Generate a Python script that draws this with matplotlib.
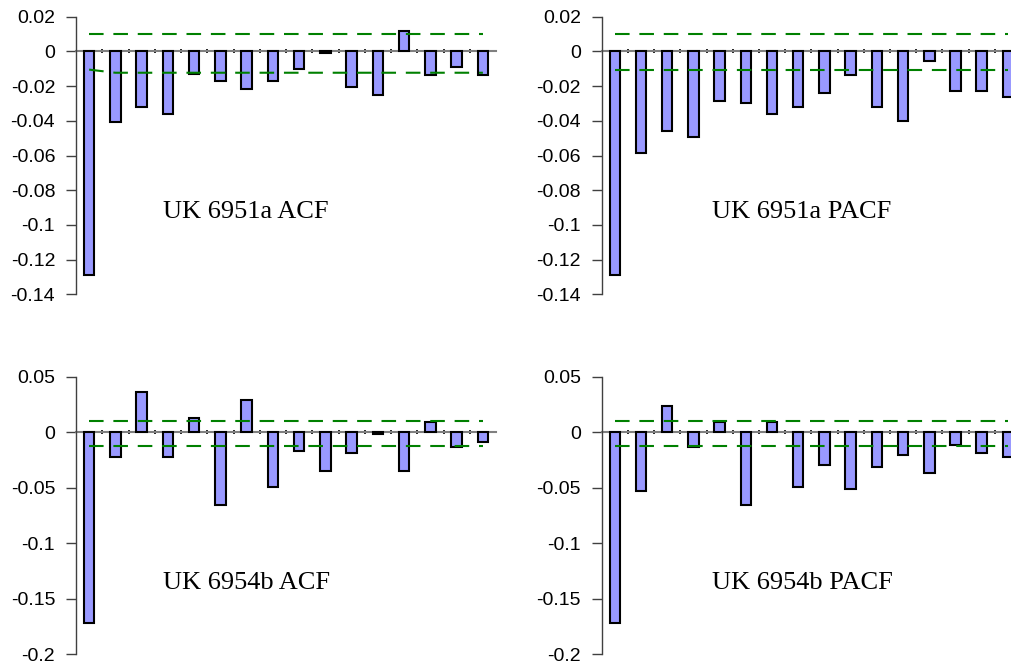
import matplotlib
matplotlib.use('Agg')

import matplotlib.pyplot as plt
import numpy as np


lags = list(range(1, 17))

acf_6951a = [-0.129, -0.0405, -0.0322, -0.0359, -0.0128, -0.0173, -0.0219, -0.0173,
             -0.0104, -0.001, -0.0207, -0.0253, 0.0117, -0.0138, -0.0090, -0.0138]
pacf_6951a = [-0.129, -0.0587, -0.046, -0.0495, -0.0288, -0.0299, -0.0359, -0.0322,
              -0.0242, -0.0138, -0.0322, -0.0403, -0.0058, -0.0228, -0.0228, -0.0265]
acf_6954b = [-0.1715, -0.0221, 0.0359, -0.0221, 0.0125, -0.0653, 0.0287, -0.0491,
             -0.0167, -0.0347, -0.0185, -0.002, -0.0347, 0.0089, -0.0131, -0.0092]
pacf_6954b = [-0.1715, -0.0527, 0.0233, -0.0131, 0.0095, -0.0653, 0.0095, -0.0491,
              -0.0293, -0.0509, -0.0311, -0.0203, -0.0365, -0.0113, -0.0185, -0.0221]

# confidence bands
upper_6951a_acf = [0.01] * 16
lower_6951a_acf = [-0.0105] + [-0.0123] * 15
upper_6951a_pacf = [0.01] * 16
lower_6951a_pacf = [-0.011] * 16
upper_6954b = [0.0098] * 16
lower_6954b = [-0.0122] * 16

titles = ["UK 6951a ACF", "UK 6951a PACF", "UK 6954b ACF", "UK 6954b PACF"]

W, H = 1011, 665


def px_axes(fig, x0, y0, x1, y1):
    return fig.add_axes([x0 / W, 1 - y1 / H, (x1 - x0) / W, (y1 - y0) / H])


def draw_panel(ax, vals, upper, lower, ylim, yticks, ytlabels, title, tpos):
    x = np.arange(len(vals))
    ax.plot(x, upper, color='#008000', lw=1.5, dashes=(7, 4.7), zorder=4)
    ax.plot(x, lower, color='#008000', lw=1.5, dashes=(7, 4.7), zorder=4)
    ax.bar(x, vals, width=0.4, color='#9999FF', edgecolor='black',
           linewidth=1.5, zorder=3)

    ax.set_xlim(-0.5, len(vals) - 0.5)
    ax.set_ylim(ylim)

    for s in ['top', 'right']:
        ax.spines[s].set_visible(False)
    ax.spines['left'].set_color('#404040')
    ax.spines['left'].set_linewidth(1.0)
    ax.spines['bottom'].set_position(('data', 0))
    ax.spines['bottom'].set_color('#808080')
    ax.spines['bottom'].set_linewidth(1.5)
    ax.spines['bottom'].set_zorder(2)

    ax.set_xticks(np.arange(0.5, len(vals) - 0.5, 1.0))
    ax.tick_params(axis='x', direction='inout', length=3.5, width=1.2,
                   color='black', labelbottom=False)

    ax.set_yticks(yticks)
    ax.set_yticklabels(ytlabels)
    ax.tick_params(axis='y', direction='out', length=7, width=1.0,
                   color='#404040', pad=8, labelsize=14)
    for lb in ax.get_yticklabels():
        lb.set_family('Liberation Sans')

    ax.text(tpos[0], tpos[1], title, transform=ax.transAxes,
            family='Liberation Serif', fontsize=19, ha='left', va='baseline')


def main():
    fig = plt.figure(figsize=(W / 100, H / 100), dpi=100)

    ax1 = px_axes(fig, 76, 16.7, 496, 294.3)
    ax2 = px_axes(fig, 601.7, 16.7, 1021, 294.3)
    ax3 = px_axes(fig, 76, 376.7, 496, 654.3)
    ax4 = px_axes(fig, 601.7, 376.7, 1021, 654.3)

    top_ticks = [0.02, 0, -0.02, -0.04, -0.06, -0.08, -0.1, -0.12, -0.14]
    top_labels = ["0.02", "0", "-0.02", "-0.04", "-0.06", "-0.08", "-0.1", "-0.12", "-0.14"]
    bot_ticks = [0.05, 0, -0.05, -0.1, -0.15, -0.2]
    bot_labels = ["0.05", "0", "-0.05", "-0.1", "-0.15", "-0.2"]

    draw_panel(ax1, acf_6951a, upper_6951a_acf, lower_6951a_acf, (-0.14, 0.02),
               top_ticks, top_labels, titles[0], (0.207, 0.275))
    draw_panel(ax2, pacf_6951a, upper_6951a_pacf, lower_6951a_pacf, (-0.14, 0.02),
               top_ticks, top_labels, titles[1], (0.262, 0.275))
    draw_panel(ax3, acf_6954b, upper_6954b, lower_6954b, (-0.2, 0.05),
               bot_ticks, bot_labels, titles[2], (0.207, 0.234))
    draw_panel(ax4, pacf_6954b, upper_6954b, lower_6954b, (-0.2, 0.05),
               bot_ticks, bot_labels, titles[3], (0.262, 0.234))

    fig.savefig("out.png", dpi=100)
    plt.close(fig)


if __name__ == "__main__":
    main()
